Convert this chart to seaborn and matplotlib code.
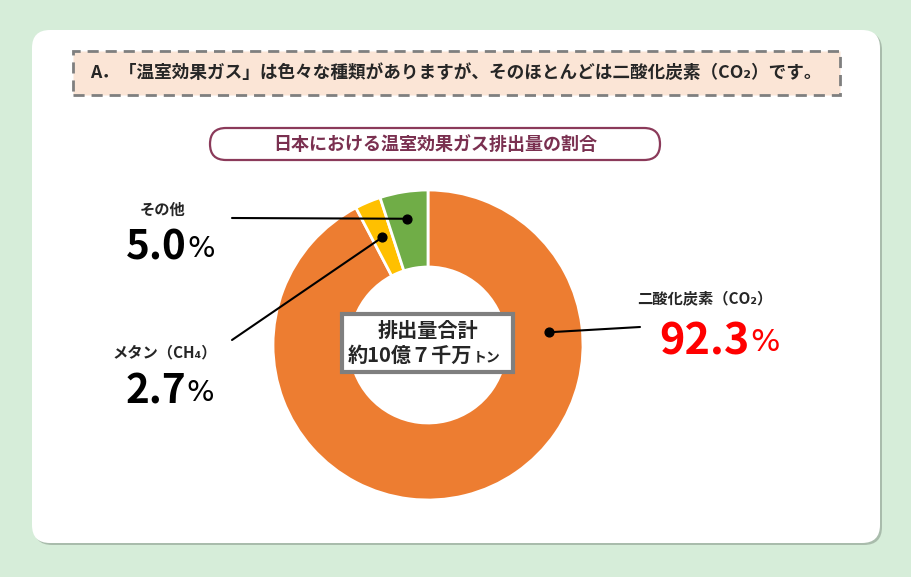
import matplotlib.pyplot as plt
import seaborn as sns
import numpy as np
from matplotlib.patches import FancyBboxPatch, Rectangle

# data
gases = ['二酸化炭素（CO₂）', 'メタン（CH₄）', 'その他']
shares = [92.3, 2.7, 5.0]
colors = ['#ed7d31', '#ffc000', '#70ad47']
value_colors = ['#ff0000', '#000000', '#000000']

title_text = 'A．「温室効果ガス」は色々な種類がありますが、そのほとんどは二酸化炭素（CO₂）です。'
chart_title = '日本における温室効果ガス排出量の割合'
center_lines = ['排出量合計', '約10億７千万']
center_unit = 'トン'

sns.set_theme(style='white')
plt.rcParams['font.family'] = ['Noto Sans CJK JP', 'DejaVu Sans']

W, H = 912, 577
fig = plt.figure(figsize=(W / 100, H / 100), dpi=100)
fig.patch.set_facecolor('#d6edd9')
ax = fig.add_axes([0, 0, 1, 1])


def py(y):
    # image row -> data y
    return H - y


# white panel with shadow
ax.add_patch(FancyBboxPatch((34, py(545)), 848, 513, boxstyle='round,pad=0,rounding_size=18',
                            fc='#8c9c8e', ec='none', alpha=0.6, zorder=0))
ax.add_patch(FancyBboxPatch((32, py(543)), 848, 513, boxstyle='round,pad=0,rounding_size=18',
                            fc='white', ec='none', zorder=1))

# dashed header box
ax.add_patch(Rectangle((73, py(95)), 767, 44, fc='#fbe5d6', ec='#7f7f7f', lw=2,
                       ls=(0, (4, 2.5)), zorder=2))
ax.text(90, py(73), title_text, fontsize=12.7, fontweight='bold', va='center', ha='left', zorder=3)

# chart subtitle box
ax.add_patch(FancyBboxPatch((210, py(160)), 450, 32, boxstyle='round,pad=0,rounding_size=16',
                            fc='white', ec='#8b3a5a', lw=1.6, zorder=2))
ax.text(435, py(144), chart_title, fontsize=13, fontweight='bold', color='#7a3050',
        ha='center', va='center', zorder=3)

# donut
cx, cy, R = 428, py(345), 155
ax.pie(shares, colors=colors, startangle=90, counterclock=False, radius=R, center=(cx, cy),
       wedgeprops=dict(width=77, edgecolor='white', linewidth=2), frame=True)
ax.set_xlim(0, W)
ax.set_ylim(0, H)
ax.set_aspect('equal')
ax.axis('off')

# leader lines: label end (image coords), angle and radius of the dot
leaders = [((640, 327), 6, 122), ((232, 340), 113, 117), ((232, 218), 99.5, 128)]
for (lx, ly), ang, r in leaders:
    a = np.deg2rad(ang)
    dx, dy = cx + r * np.cos(a), cy + r * np.sin(a)
    ax.plot([lx, dx], [py(ly), dy], color='black', lw=1.5, zorder=4)
    ax.scatter([dx], [dy], s=40, color='black', zorder=5)

# labels: name position, value right edge position, value size
label_pos = [((705, 298), (750, 341), 31), ((165, 352), (186, 392), 29), ((163, 210), (187, 248), 29)]
for name, val, vc, ((nx, ny), (vx, vy), fs) in zip(gases, shares, value_colors, label_pos):
    ax.text(nx, py(ny), name, fontsize=11, fontweight='bold', ha='center', va='center', zorder=4)
    ax.text(vx, py(vy), f'{val:.1f}', fontsize=fs, fontweight='bold', color=vc,
            ha='right', va='center', zorder=4)
    ax.text(vx, py(vy) - 1, '%', fontsize=fs * 0.72, color=vc, ha='left', va='center',
            family=['DejaVu Sans'], zorder=4)

# center box
ax.add_patch(Rectangle((342, py(372)), 171, 58, fc='white', ec='#7f7f7f', lw=3, zorder=6))
ax.text(428, py(330), center_lines[0], fontsize=14.5, fontweight='bold', ha='center', va='center', zorder=7)
ax.text(472, py(355), center_lines[1], fontsize=14.5, fontweight='bold', ha='right', va='center', zorder=7)
ax.text(473, py(357), center_unit, fontsize=10, fontweight='bold', ha='left', va='center', zorder=7)

fig.savefig('out.png', dpi=100, facecolor=fig.get_facecolor())
